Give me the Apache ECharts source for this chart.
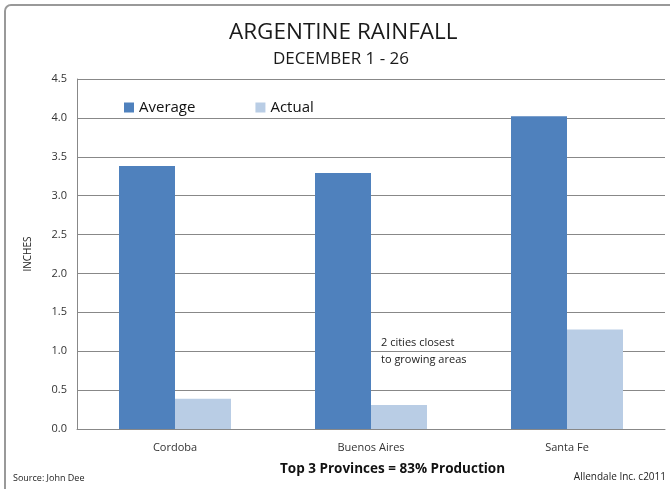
<!DOCTYPE html>
<html>
<head>
<meta charset="utf-8">
<script src="https://cdn.jsdelivr.net/npm/echarts@6/dist/echarts.min.js"></script>
<style>
html,body{margin:0;padding:0;background:#fff;}
#c{width:670px;height:489px;}
</style>
</head>
<body>
<div id="c"></div>
<script>
var categories = ['Cordoba', 'Buenos Aires', 'Santa Fe'];
var averageValues = [3.38, 3.29, 4.02];
var actualValues = [0.39, 0.31, 1.28];
var yTicks = ['0.0','0.5','1.0','1.5','2.0','2.5','3.0','3.5','4.0','4.5'];

var chart = echarts.init(document.getElementById('c'), null, {renderer: 'canvas'});
var FONT = '"Open Sans", "Liberation Sans", sans-serif';
chart.setOption({
  animation: false,
  backgroundColor: '#fff',
  title: [
    {text: 'ARGENTINE RAINFALL', left: 224, top: 16,
     textStyle: {fontFamily: FONT, fontWeight: 'normal', fontSize: 22.5, color: '#1a1a1a'}},
    {text: 'DECEMBER 1 - 26', left: 268, top: 46,
     textStyle: {fontFamily: FONT, fontWeight: 'normal', fontSize: 17, color: '#1a1a1a'}}
  ],
  legend: {
    left: 119, top: 95, itemWidth: 10, itemHeight: 10, itemGap: 60,
    icon: 'rect',
    textStyle: {fontFamily: FONT, fontSize: 15, fontWeight: 500, color: '#111'},
    data: ['Average', 'Actual']
  },
  grid: {left: 77, right: 5, top: 79, bottom: 60},
  xAxis: {
    type: 'category', data: categories,
    axisLine: {lineStyle: {color: '#888'}},
    axisTick: {show: false},
    axisLabel: {fontFamily: FONT, fontSize: 11, color: '#333', margin: 13}
  },
  yAxis: {
    type: 'value', min: 0, max: 4.5, interval: 0.5,
    name: 'INCHES', nameLocation: 'middle', nameGap: 44, nameRotate: 90,
    nameTextStyle: {fontFamily: FONT, fontSize: 10, color: '#222'},
    axisLine: {show: true, lineStyle: {color: '#888'}},
    axisTick: {show: false},
    splitLine: {lineStyle: {color: '#888'}},
    axisLabel: {fontFamily: FONT, fontSize: 11, color: '#333', margin: 10,
      formatter: function (v) { return yTicks[Math.round(v / 0.5)]; }}
  },
  series: [
    {name: 'Average', type: 'bar', data: averageValues, barWidth: 56, barGap: '0%',
     itemStyle: {color: '#4F81BD'}},
    {name: 'Actual', type: 'bar', data: actualValues, barWidth: 56,
     itemStyle: {color: '#B9CDE5'}}
  ],
  graphic: [
    {type: 'rect', shape: {x: 5, y: 5, width: 700, height: 520, r: 6}, silent: true, z: -1,
     style: {fill: 'none', stroke: '#999', lineWidth: 2}},
    {type: 'text', left: 381, top: 334, style: {text: '2 cities closest\nto growing areas',
     font: '11px ' + FONT, fill: '#222', lineHeight: 17}},
    {type: 'text', left: 280, top: 462, style: {text: 'Top 3 Provinces = 83% Production',
     font: 'bold 13.5px ' + FONT, fill: '#111'}},
    {type: 'text', left: 13, top: 474, style: {text: 'Source: John Dee',
     font: '9px ' + FONT, fill: '#222'}},
    {type: 'text', right: 4, top: 472, style: {text: 'Allendale Inc. c2011',
     font: '10px ' + FONT, fill: '#222'}}
  ]
});
</script>
</body>
</html>
